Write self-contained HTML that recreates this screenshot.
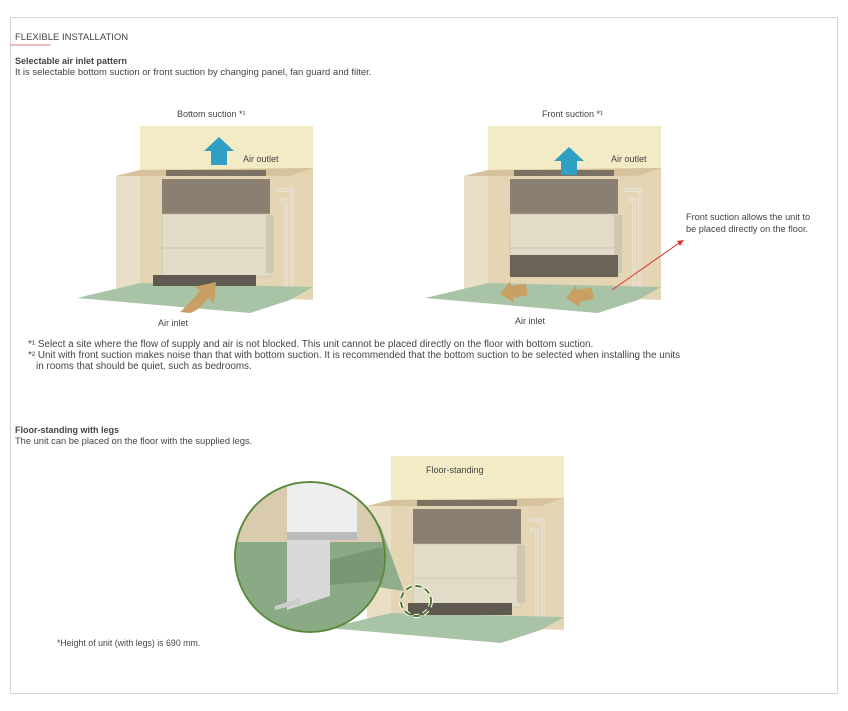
<!DOCTYPE html>
<html><head><style>
body{margin:0;background:#fff;width:848px;height:706px;overflow:hidden;font-family:"Liberation Sans",sans-serif;}
svg text{font-family:"Liberation Sans",sans-serif;fill:#444;}
</style></head><body>
<svg width="848" height="706" viewBox="0 0 848 706" xmlns="http://www.w3.org/2000/svg">
<defs>
<g id="unit">
  <rect x="140" y="126" width="173" height="50" fill="#f3ebc6"/>
  <polygon points="116,176 140,170 313,168 313,300 116,292" fill="#e3d4b0" opacity="0.95"/>
  <polygon points="116,176 140,170 140,286 116,292" fill="#e9dfc6"/>
  <polygon points="116,176 140,170 313,168 290,176" fill="#d6c29c"/>
  <rect x="166" y="170" width="100" height="6" fill="#7c7264"/>
  <rect x="162" y="179" width="108" height="35" fill="#8a7f71"/>
  <rect x="162" y="214" width="108" height="63" fill="#e2dbc8" stroke="#c8bfa8" stroke-width="0.6"/>
  <line x1="162" y1="248" x2="270" y2="248" stroke="#bcb39d" stroke-width="0.6"/>
  <rect x="266" y="215" width="8" height="58" fill="#cfc7b2"/>
  <path d="M276 190 H292 V292 M279 200 H286 V290" stroke="#efe9dc" stroke-width="3" fill="none"/>
  <path d="M276 190 H292 V292 M279 200 H286 V290" stroke="#b8ad96" stroke-width="0.5" fill="none"/>
  <polygon points="77,298 140,283 313,287 290,300 250,313" fill="#a9c3a6"/>
</g>
</defs>
<rect x="10.5" y="17.5" width="827" height="676" fill="none" stroke="#d6d6d6"/>
<text x="15" y="40" font-size="9.5">FLEXIBLE INSTALLATION</text>
<line x1="10" y1="45" x2="51" y2="45" stroke="#e08080" stroke-width="1"/>
<text x="15" y="64" font-size="9" font-weight="bold">Selectable air inlet pattern</text>
<text x="15" y="75" font-size="9.5">It is selectable bottom suction or front suction by changing panel, fan guard and filter.</text>

<text x="177" y="117" font-size="9">Bottom suction *¹</text>
<use href="#unit"/>
<rect x="153" y="275" width="103" height="11" fill="#5e5a50"/>
<polygon points="211,165 211,151 204,151 219,137 234,151 227,151 227,165" fill="#2f9fc4"/>
<text x="243" y="162" font-size="9">Air outlet</text>
<path d="M180,312 Q195,298 200,290 L194,287 L216,282 L214,304 L208,298 Q200,310 190,313 Z" fill="#c9a064"/>
<text x="158" y="326" font-size="9">Air inlet</text>

<text x="542" y="117" font-size="9">Front suction *¹</text>
<g transform="translate(348,0)"><use href="#unit"/></g>
<rect x="510" y="255" width="108" height="22" fill="#6b6456"/>
<polygon points="561,175 561,161 554,161 569,147 584,161 577,161 577,175" fill="#2f9fc4"/>
<text x="611" y="162" font-size="9">Air outlet</text>
<polygon points="500,292 512,281 512,286 527,286 527,298 512,298 512,303" fill="#c9a064" transform="rotate(-10 512 292)"/>
<polygon points="566,296 578,285 578,290 593,290 593,302 578,302 578,307" fill="#c9a064" transform="rotate(-10 578 296)"/>
<text x="515" y="324" font-size="9">Air inlet</text>
<line x1="612" y1="290" x2="682" y2="241" stroke="#e03030" stroke-width="1"/>
<polygon points="684,240 677,241 680,246" fill="#e03030"/>
<text x="686" y="220" font-size="9.2">Front suction allows the unit to</text>
<text x="686" y="232" font-size="9.2">be placed directly on the floor.</text>

<text x="28" y="347" font-size="9.9">*¹ Select a site where the flow of supply and air is not blocked. This unit cannot be placed directly on the floor with bottom suction.</text>
<text x="28" y="358" font-size="9.9">*² Unit with front suction makes noise than that with bottom suction. It is recommended that the bottom suction to be selected when installing the units</text>
<text x="36" y="369" font-size="9.9">in rooms that should be quiet, such as bedrooms.</text>

<text x="15" y="433" font-size="9" font-weight="bold">Floor-standing with legs</text>
<text x="15" y="444" font-size="9.3">The unit can be placed on the floor with the supplied legs.</text>

<g transform="translate(251,330)"><use href="#unit"/></g>
<rect x="408" y="603" width="104" height="12" fill="#5e5a50"/>
<text x="426" y="473" font-size="9">Floor-standing</text>
<polygon points="300,575 404,591 380,525" fill="#8fae8a"/>
<circle cx="310" cy="557" r="75" fill="#a9c3a6" stroke="#5a8a3a" stroke-width="2"/>
<clipPath id="c"><circle cx="310" cy="557" r="74"/></clipPath>
<g clip-path="url(#c)">
  <rect x="230" y="480" width="160" height="62" fill="#d9ccae"/>
  <rect x="230" y="542" width="160" height="100" fill="#8aa985"/>
  <rect x="287" y="482" width="70" height="52" fill="#eeeeee"/>
  <rect x="287" y="532" width="70" height="8" fill="#bbbbbb"/>
  <polygon points="287,540 330,540 330,596 287,610" fill="#d8d8d8"/>
  <polygon points="275,610 300,604 300,598 275,606" fill="#cccccc"/>
  <polygon points="330,560 390,545 390,580 330,585" fill="#7a9774"/>
</g>
<circle cx="416" cy="601" r="15" fill="none" stroke="#fff" stroke-width="4" stroke-dasharray="6 4"/>
<circle cx="416" cy="601" r="15" fill="none" stroke="#4a7a2a" stroke-width="2" stroke-dasharray="6 4"/>
<text x="57" y="646" font-size="8.8">*Height of unit (with legs) is 690 mm.</text>
</svg>
</body></html>
